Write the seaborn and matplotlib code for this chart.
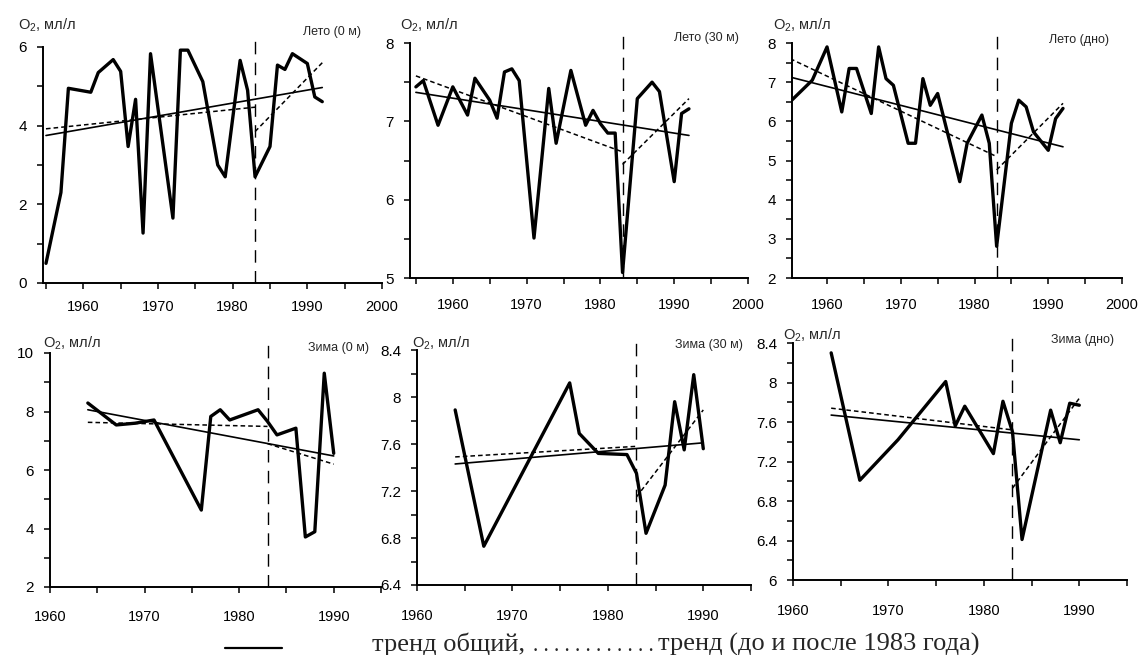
import numpy as np
import pandas as pd
import matplotlib
matplotlib.use("Agg")
import matplotlib.pyplot as plt
import seaborn as sns
from matplotlib.ticker import MultipleLocator, FuncFormatter
from matplotlib.lines import Line2D

# ---------------- data ----------------
# Лето (0 м)
s0_years = [1955, 1957, 1958, 1961, 1962, 1964, 1965, 1966, 1967, 1968, 1969, 1972, 1973, 1974,
            1976, 1978, 1979, 1981, 1982, 1983, 1985, 1986, 1987, 1988, 1990, 1991, 1992]
s0_vals = [0.5, 2.3, 4.95, 4.85, 5.35, 5.68, 5.38, 3.47, 4.67, 1.27, 5.83, 1.65, 5.92, 5.92,
           5.12, 3.0, 2.7, 5.66, 4.9, 2.7, 3.47, 5.54, 5.43, 5.83, 5.58, 4.73, 4.61]
s0_trend_all = ([1955, 1992], [3.75, 4.97])
s0_trend_pre = ([1955, 1983], [3.92, 4.47])
s0_trend_post = ([1983, 1992], [3.85, 5.6])

# Лето (30 м)
s30_years = [1955, 1956, 1958, 1960, 1962, 1963, 1965, 1966, 1967, 1968, 1969, 1971, 1973, 1974,
             1976, 1978, 1979, 1980, 1981, 1982, 1983, 1985, 1987, 1988, 1990, 1991, 1992]
s30_vals = [7.44, 7.52, 6.95, 7.44, 7.08, 7.55, 7.27, 7.04, 7.63, 7.67, 7.52, 5.51, 7.42, 6.72,
            7.65, 6.95, 7.14, 6.97, 6.85, 6.85, 5.07, 7.29, 7.50, 7.38, 6.23, 7.10, 7.16]
s30_trend_all = ([1955, 1992], [7.37, 6.82])
s30_trend_pre = ([1955, 1983], [7.58, 6.61])
s30_trend_post = ([1983, 1992], [6.45, 7.29])

# Лето (дно)
sb_years = [1955, 1958, 1960, 1962, 1963, 1964, 1966, 1967, 1968, 1969, 1971, 1972, 1973, 1974,
            1975, 1978, 1979, 1981, 1982, 1983, 1985, 1986, 1987, 1988, 1990, 1991, 1992]
sb_vals = [6.50, 7.05, 7.90, 6.24, 7.35, 7.35, 6.20, 7.90, 7.09, 6.92, 5.44, 5.44, 7.09, 6.41,
           6.71, 4.46, 5.44, 6.16, 5.44, 2.81, 5.95, 6.54, 6.37, 5.73, 5.26, 6.07, 6.33]
sb_trend_all = ([1955, 1992], [7.13, 5.35])
sb_trend_pre = ([1955, 1983], [7.60, 5.10])
sb_trend_post = ([1983, 1992], [4.76, 6.46])

# Зима (0 м)
w0_years = [1964, 1967, 1969, 1971, 1976, 1977, 1978, 1979, 1982, 1983, 1984, 1986, 1987, 1988, 1989, 1990]
w0_vals = [8.29, 7.54, 7.60, 7.71, 4.63, 7.83, 8.06, 7.71, 8.06, 7.66, 7.20, 7.43, 3.71, 3.89, 9.31, 6.57]
w0_trend_all = ([1964, 1990], [8.06, 6.48])
w0_trend_pre = ([1964, 1983], [7.63, 7.49])
w0_trend_post = ([1983, 1990], [6.90, 6.20])

# Зима (30 м)
w30_years = [1964, 1967, 1976, 1977, 1979, 1982, 1983, 1984, 1986, 1987, 1988, 1989, 1990]
w30_vals = [7.89, 6.73, 8.12, 7.69, 7.52, 7.51, 7.35, 6.84, 7.25, 7.96, 7.55, 8.19, 7.56]
w30_trend_all = ([1964, 1990], [7.43, 7.61])
w30_trend_pre = ([1964, 1983], [7.49, 7.58])
w30_trend_post = ([1983, 1990], [7.15, 7.89])

# Зима (дно)
wb_years = [1964, 1967, 1971, 1976, 1977, 1978, 1981, 1982, 1983, 1984, 1987, 1988, 1989, 1990]
wb_vals = [8.30, 7.01, 7.42, 8.01, 7.56, 7.76, 7.28, 7.81, 7.50, 6.41, 7.72, 7.39, 7.79, 7.77]
wb_trend_all = ([1964, 1990], [7.67, 7.42])
wb_trend_pre = ([1964, 1983], [7.74, 7.52])
wb_trend_post = ([1983, 1990], [6.93, 7.84])

titles = ["Лето (0 м)", "Лето (30 м)", "Лето (дно)", "Зима (0 м)", "Зима (30 м)", "Зима (дно)"]
ylabel = "O$_2$, мл/л"
break_year = 1983
legend_part1 = "тренд общий,"
legend_dots = ". . . . . . . . . . . ."
legend_part2 = "тренд (до и после 1983 года)"

# ---------------- style ----------------
sns.set_style("ticks")
plt.rcParams['font.family'] = ['Liberation Sans', 'DejaVu Sans']
plt.rcParams['mathtext.fontset'] = 'custom'
plt.rcParams['mathtext.rm'] = 'Liberation Sans'
plt.rcParams['mathtext.it'] = 'Liberation Sans'

W, H = 1140, 655
fig = plt.figure(figsize=(W / 100, H / 100), dpi=100)
fig.patch.set_facecolor('white')

def add_ax(l, r, t, b):
    return fig.add_axes([l / W, 1 - b / H, (r - l) / W, (b - t) / H])

panels = [
    dict(box=(43, 382, 47, 283), xlim=(1954.6, 2000), ylim=(0, 6), ymaj=2, ymin=1,
         xmaj=np.arange(1960, 2001, 10), years=s0_years, vals=s0_vals,
         trends=(s0_trend_all, s0_trend_pre, s0_trend_post),
         ylab=(18, 25), tlab=(361, 32), xpad=8),
    dict(box=(410, 748, 43, 278), xlim=(1954.2, 2000), ylim=(5, 8), ymaj=1, ymin=0.5,
         xmaj=np.arange(1960, 2001, 10), years=s30_years, vals=s30_vals,
         trends=(s30_trend_all, s30_trend_pre, s30_trend_post),
         ylab=(400, 25), tlab=(739, 38), xpad=10),
    dict(box=(792, 1122, 43, 278), xlim=(1955.25, 2000), ylim=(2, 8), ymaj=1, ymin=0.5,
         xmaj=np.arange(1960, 2001, 10), years=sb_years, vals=sb_vals,
         trends=(sb_trend_all, sb_trend_pre, sb_trend_post),
         ylab=(773, 25), tlab=(1109, 40), xpad=10),
    dict(box=(50, 381, 353, 587), xlim=(1960, 1995), ylim=(2, 10), ymaj=2, ymin=1,
         xmaj=np.arange(1960, 1991, 10), years=w0_years, vals=w0_vals,
         trends=(w0_trend_all, w0_trend_pre, w0_trend_post),
         ylab=(43, 343), tlab=(369, 348), xpad=12),
    dict(box=(417, 751, 350, 585), xlim=(1960, 1995), ylim=(6.4, 8.4), ymaj=0.4, ymin=0.2,
         xmaj=np.arange(1960, 1991, 10), years=w30_years, vals=w30_vals,
         trends=(w30_trend_all, w30_trend_pre, w30_trend_post),
         ylab=(412, 343), tlab=(743, 345), xpad=13),
    dict(box=(793, 1127, 343, 580), xlim=(1960, 1995), ylim=(6, 8.4), ymaj=0.4, ymin=0.2,
         xmaj=np.arange(1960, 1991, 10), years=wb_years, vals=wb_vals,
         trends=(wb_trend_all, wb_trend_pre, wb_trend_post),
         ylab=(783, 335), tlab=(1114, 340), xpad=13),
]

fmt = FuncFormatter(lambda v, p: f"{v:g}")

for p, title in zip(panels, titles):
    ax = add_ax(*p['box'])
    ax.set_facecolor('white')
    df = pd.DataFrame({'year': p['years'], 'o2': p['vals']})
    sns.lineplot(data=df, x='year', y='o2', ax=ax, color='black', linewidth=2.4,
                 estimator=None, sort=False)
    t_all, t_pre, t_post = p['trends']
    sns.lineplot(x=t_all[0], y=t_all[1], ax=ax, color='black', linewidth=1.2, estimator=None)
    for tr in (t_pre, t_post):
        sns.lineplot(x=tr[0], y=tr[1], ax=ax, color='black', linewidth=1.1,
                     linestyle=(0, (3, 2)), estimator=None)
    ax.axvline(break_year, ymin=0, ymax=1.04, color='black', linewidth=1.0,
               linestyle=(0, (9, 6)), clip_on=False)
    ax.set_xlim(*p['xlim'])
    ax.set_ylim(*p['ylim'])
    ax.set_xticks(p['xmaj'])
    ax.xaxis.set_minor_locator(MultipleLocator(5))
    ax.yaxis.set_major_locator(MultipleLocator(p['ymaj']))
    ax.yaxis.set_minor_locator(MultipleLocator(p['ymin']))
    ax.yaxis.set_major_formatter(fmt)
    ax.xaxis.set_major_formatter(FuncFormatter(lambda v, q: f"{int(v)}"))
    ax.tick_params(which='both', direction='out', length=4.5, width=1.1, color='black',
                   labelcolor='black')
    ax.tick_params(axis='x', pad=p['xpad'], labelsize=10.5)
    ax.tick_params(axis='y', pad=7, labelsize=11)
    ax.set_xlabel('')
    ax.set_ylabel('')
    for s in ('top', 'right'):
        ax.spines[s].set_visible(False)
    for s in ('left', 'bottom'):
        ax.spines[s].set_linewidth(1.4)
        ax.spines[s].set_color('black')
    if ax.get_legend():
        ax.get_legend().remove()
    fig.text(p['ylab'][0] / W, 1 - p['ylab'][1] / H, ylabel, fontsize=10.5,
             ha='left', va='center')
    fig.text(p['tlab'][0] / W, 1 - p['tlab'][1] / H, title, fontsize=9,
             ha='right', va='center')

# bottom legend
serif = ['Liberation Serif', 'DejaVu Serif']
fig.add_artist(Line2D([225 / W, 282 / W], [1 - 648 / H, 1 - 648 / H], color='black',
                      linewidth=1.6))
fig.text(372 / W, 1 - 651 / H, legend_part1, fontsize=19, family=serif,
         ha='left', va='baseline')
fig.text(533 / W, 1 - 651 / H, legend_dots, fontsize=15, family=serif,
         ha='left', va='baseline')
fig.text(658 / W, 1 - 651 / H, legend_part2, fontsize=19, family=serif,
         ha='left', va='baseline')

fig.savefig("out.png", dpi=100, facecolor='white')
